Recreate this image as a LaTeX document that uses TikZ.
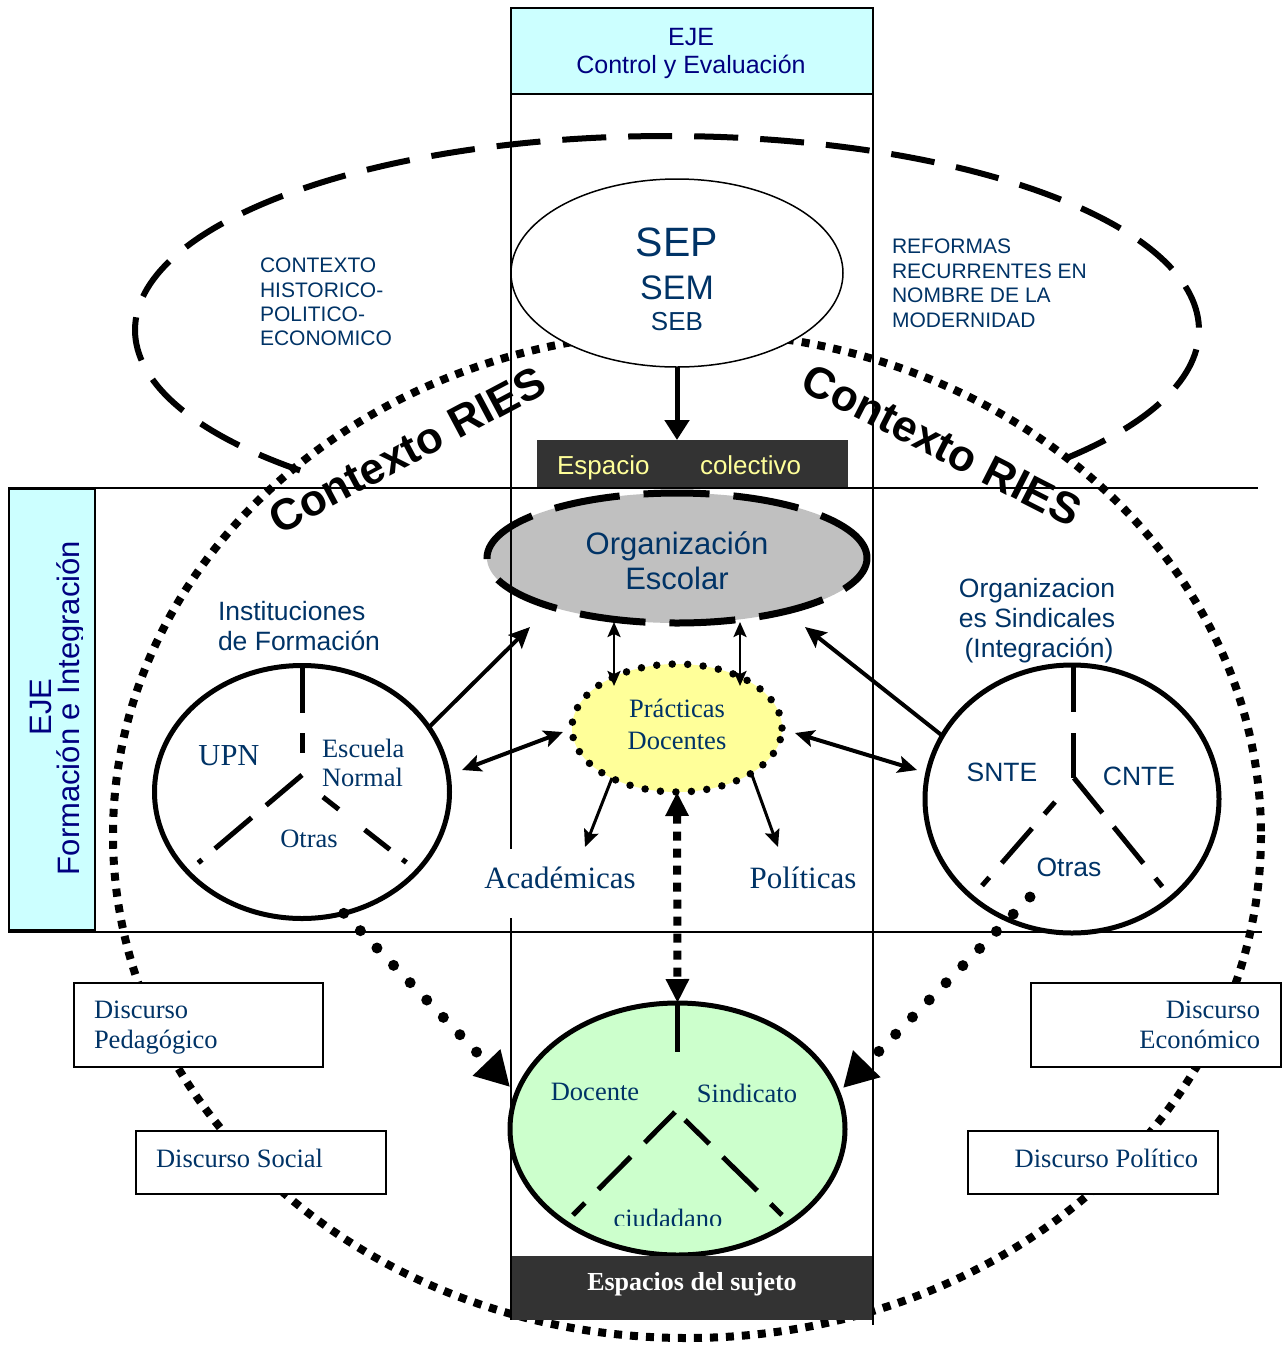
\documentclass[tikz,border=0pt]{standalone}
\usepackage{fontspec}
\setmainfont{Liberation Serif}
\setsansfont{Liberation Sans}
\usetikzlibrary{arrows.meta,shapes.geometric}
\definecolor{txtblue}{HTML}{003366}
\definecolor{ejeblue}{HTML}{000080}
\definecolor{cyanfill}{HTML}{CCFFFF}
\definecolor{grayfill}{HTML}{C0C0C0}
\definecolor{yelfill}{HTML}{FFFF99}
\definecolor{grnfill}{HTML}{CCFFCC}
\definecolor{darkfill}{HTML}{333333}
\newcommand\fs[1]{\fontsize{#1}{#1}\selectfont}
\tikzset{
  lbl/.style={inner sep=0pt, outer sep=0pt, text=txtblue},
  sansL/.style={lbl, font=\sffamily\fs{26.5}},
  serifL/.style={lbl, font=\rmfamily\fs{26.5}},
  ctxL/.style={lbl, font=\sffamily\fs{21}, anchor=base west},
  ejeL/.style={inner sep=0pt, outer sep=0pt, text=ejeblue, font=\sffamily\fs{25}},
  ries/.style={inner sep=0pt, outer sep=0pt, text=black, font=\sffamily\bfseries\fs{44}},
  bigdash/.style={line width=6pt, dash pattern=on 44pt off 22pt},
  bigdots/.style={line width=8pt, dash pattern=on 8pt off 8pt},
  circ/.style={ellipse, draw=black, line width=5pt, fill=white, inner sep=0pt, outer sep=0pt},
  yline/.style={line width=5pt},
  discbox/.style={draw=black, line width=2pt, fill=white, inner sep=0pt, outer sep=0pt, anchor=north west},
  darkbox/.style={fill=darkfill, inner sep=0pt, outer sep=0pt, anchor=north west},
  cyanbox/.style={draw=black, line width=2pt, fill=cyanfill, inner sep=0pt, outer sep=0pt, anchor=north west},
  thinarr/.style={line width=2.5pt, {Stealth[length=15pt,width=13pt,inset=3pt]}-{Stealth[length=15pt,width=13pt,inset=3pt]}},
  medarrtwo/.style={line width=4pt, {Stealth[length=19pt,width=17pt,inset=4pt]}-{Stealth[length=19pt,width=17pt,inset=4pt]}},
  medarr/.style={line width=3pt, -{Stealth[length=17pt,width=15pt,inset=3pt]}},
  bigarr/.style={line width=4pt, -{Stealth[length=21pt,width=19pt,inset=4pt]}},
  separr/.style={line width=5pt, -{Triangle[length=20pt,width=24pt]}},
  sqdotarr/.style={line width=8pt, dash pattern=on 9pt off 8pt, {Triangle[length=24pt,width=22pt]}-{Triangle[length=24pt,width=22pt]}},
  rdotarr/.style={line width=11pt, line cap=round, dash pattern=on 0pt off 24pt, -{Triangle[length=34pt,width=36pt]}},
}
\begin{document}
\begin{tikzpicture}[x=1pt,y=-1pt]
\useasboundingbox (0,0) rectangle (1285,1345);
\fill[white] (0,0) rectangle (1285,1345);

% large dashed ellipse (open at bottom)
\draw[bigdash] ({667+532*cos(133.6)},{330+194*sin(133.6)}) arc[start angle=133.6, end angle=402, x radius=532, y radius=194];
% large dotted ellipse
\draw[bigdots] (687,835) ellipse[x radius=574, y radius=503];

% axis boxes
\node[cyanbox, minimum width=362, minimum height=86] (ejeCE) at (511,8) {};
\node[cyanbox, minimum width=86, minimum height=441] (ejeFI) at (9,489) {};

% shapes
\node[ellipse, draw=black, line width=1.5pt, fill=white, minimum width=332, minimum height=188, inner sep=0pt, outer sep=0pt] (sep) at (677,273) {};
\node[darkbox, minimum width=311, minimum height=48] (esp) at (537,440) {};
\node[ellipse, draw=black, fill=grayfill, line width=7pt, dash pattern=on 66pt off 24pt, minimum width=380, minimum height=130, inner sep=0pt, outer sep=0pt] (org) at (677,558) {};
\node[ellipse, fill=yelfill, draw=black, line width=7.5pt, line cap=round, dash pattern=on 0pt off 15.5pt, minimum width=210, minimum height=128, inner sep=0pt, outer sep=0pt] (prac) at (677,728) {};
\node[circ, minimum width=295, minimum height=253] (upn) at (302,792) {};
\node[circ, minimum width=294, minimum height=268] (sind) at (1072,799) {};
\node[circ, fill=grnfill, minimum width=335, minimum height=252] (grn) at (677.5,1129) {};
\node[darkbox, minimum width=362, minimum height=64] (esu) at (511,1256) {};
\node[discbox, minimum width=249, minimum height=84] (dped) at (74,983) {};
\node[discbox, minimum width=250, minimum height=63] (dsoc) at (136,1131) {};
\node[discbox, minimum width=250, minimum height=84] (deco) at (1031,983) {};
\node[discbox, minimum width=250, minimum height=63] (dpol) at (968,1131) {};

% frame lines
\draw[line width=2pt] (511,8) -- (511,1320);
\draw[line width=2pt] (873,8) -- (873,1325);
\draw[line width=2pt] (8,488) -- (1258,488);
\draw[line width=2pt] (8,932) -- (1262,932);

% Y dividers
\draw[yline, dash pattern=on 45pt off 20pt on 20pt off 30pt] (302,668) -- (302,775);
\draw[yline, dash pattern=on 47pt off 19pt on 48pt off 17pt on 5pt] (302,775) -- (198,863);
\draw[yline, dash pattern=on 20pt off 33pt on 32pt off 16pt on 5pt] (323,797) -- (407,863);
\draw[yline] (1073,667) -- (1073,712);
\draw[yline] (1073,733) -- (1073,778);
\draw[yline, dash pattern=on 45pt off 18pt on 47pt off 19pt on 11pt] (1074,778) -- (1165,890);
\draw[yline, dash pattern=on 16pt off 19pt on 46pt off 19pt on 11pt] (1055,802) -- (980,888);
\draw[yline] (677,1003) -- (677,1052);
\draw[yline, dash pattern=on 43pt off 20pt on 46pt off 19pt on 17pt] (675,1112) -- (573,1215);
\draw[yline, dash pattern=on 34pt off 19pt on 48pt off 19pt on 17pt] (685,1120) -- (782,1215);

% white backing of the label below the practices
\fill[white] (480,849) rectangle (640,918);

% connectors
\coordinate (orgL) at (614,622); \coordinate (pracL) at (614,686);
\coordinate (orgR) at (740,622); \coordinate (pracR) at (740,686);
\draw[thinarr] (orgL) -- (pracL);
\draw[thinarr] (orgR) -- (pracR);
\coordinate (upnA) at (462,770); \coordinate (pracA) at (563,732);
\draw[medarrtwo] (upnA) -- (pracA);
\coordinate (pracB) at (795,733); \coordinate (sindB) at (917,770);
\draw[medarrtwo] (pracB) -- (sindB);
\coordinate (pracC) at (612,778); \coordinate (acadC) at (585,847);
\draw[medarr] (pracC) -- (acadC);
\coordinate (pracD) at (752,775); \coordinate (polD) at (778,847);
\draw[medarr] (pracD) -- (polD);
\coordinate (orgE) at (530,627);
\draw[bigarr] (upn.27) -- (orgE);
\coordinate (orgF) at (805,627);
\draw[bigarr] (sind.154) -- (orgF);
\draw[separr] (sep.south) -- (sep.south |- esp.north);
\draw[sqdotarr] (prac.south) -- (grn.north);
\coordinate (grnL) at (510,1087);
\draw[rdotarr] (upn.-71) -- (grnL);
\coordinate (sindG) at (1030,897);
\coordinate (grnR) at (843,1088);
\draw[rdotarr] (sindG) -- (grnR);

% texts: top axis
\node[ejeL, anchor=base] (tEje) at (691,45) {EJE};
\node[ejeL, anchor=base] (tCE) at (691,73) {Control y Evaluación};
% left axis
\node[ejeL, font=\sffamily\fs{31}, rotate=90, anchor=base] (tEjeL) at (51,707) {EJE};
\begin{scope}
\clip (9,489) rectangle (82,930);
\node[ejeL, font=\sffamily\fs{31}, rotate=90, anchor=base] (tFI) at (79,708) {Formación e Integración};
\end{scope}
% context texts
\node[ctxL] (c1) at (260,272) {CONTEXTO};
\node[ctxL] (c2) at (260,297) {HISTORICO-};
\node[ctxL] (c3) at (260,321) {POLITICO-};
\node[ctxL] (c4) at (260,345) {ECONOMICO};
\node[ctxL] (r1) at (892,253) {REFORMAS};
\node[ctxL] (r2) at (892,278) {RECURRENTES EN};
\node[ctxL] (r3) at (892,302) {NOMBRE DE LA};
\node[ctxL] (r4) at (892,327) {MODERNIDAD};
% SEP
\node[lbl, font=\sffamily\fs{41}, anchor=base] (tSEP) at (677,256) {SEP};
\node[lbl, font=\sffamily\fs{34}, anchor=base] (tSEM) at (677,299) {SEM};
\node[lbl, font=\sffamily\fs{26}, anchor=base] (tSEB) at (677,330) {SEB};
% espacio colectivo
\node[lbl, text=yelfill, font=\sffamily\fs{26}, anchor=base west] (tEsp) at (557,474) {Espacio};
\node[lbl, text=yelfill, font=\sffamily\fs{26}, anchor=base west] (tCol) at (700,474) {colectivo};
% organizacion escolar
\node[lbl, font=\sffamily\fs{31}, anchor=base] (tOrg1) at (677,554) {Organización};
\node[lbl, font=\sffamily\fs{31}, anchor=base] (tOrg2) at (677,589) {Escolar};
% instituciones
\node[sansL, anchor=base west] (tIns1) at (218,620) {Instituciones};
\node[sansL, anchor=base west] (tIns2) at (218,650) {de Formación};
% organizaciones sindicales
\node[sansL, anchor=base] (tSin1) at (1037,597) {Organizacion};
\node[sansL, anchor=base] (tSin2) at (1037,627) {es Sindicales};
\node[sansL, anchor=base] (tSin3) at (1039,657) {(Integración)};
% UPN circle
\node[lbl, font=\rmfamily\fs{30.5}, anchor=base] (tUPN) at (229,765) {UPN};
\node[serifL, anchor=base west] (tEsc) at (322,757) {Escuela};
\node[serifL, anchor=base west] (tNor) at (322,786) {Normal};
\node[serifL, anchor=base] (tOtr1) at (309,847) {Otras};
% sindical circle
\node[sansL, anchor=base] (tSNTE) at (1002,781) {SNTE};
\node[sansL, anchor=base] (tCNTE) at (1139,785) {CNTE};
\node[sansL, anchor=base] (tOtr2) at (1069,876) {Otras};
% practicas
\node[serifL, anchor=base] (tPra1) at (677,717) {Prácticas};
\node[serifL, anchor=base] (tPra2) at (677,749) {Docentes};
\node[lbl, font=\rmfamily\fs{31}, anchor=base] (tAca) at (560,888) {Académicas};
\node[lbl, font=\rmfamily\fs{31}, anchor=base] (tPol) at (803,888) {Políticas};
% discursos
\node[serifL, anchor=base west] (tDP1) at (94,1018) {Discurso};
\node[serifL, anchor=base west] (tDP2) at (94,1048) {Pedagógico};
\node[serifL, anchor=base west] (tDS) at (156,1167) {Discurso Social};
\node[serifL, anchor=base east] (tDE1) at (1260,1018) {Discurso};
\node[serifL, anchor=base east] (tDE2) at (1260,1048) {Económico};
\node[serifL, anchor=base east] (tDPo) at (1198,1167) {Discurso Político};
% green ellipse
\node[serifL, anchor=base] (tDoc) at (595,1100) {Docente};
\node[serifL, anchor=base] (tSind) at (747,1102) {Sindicato};
\begin{scope}
\clip (590,1190) rectangle (750,1225);
\node[serifL, anchor=base] (tCiu) at (668,1227) {ciudadano};
\end{scope}
\node[inner sep=0pt, outer sep=0pt, text=white, font=\rmfamily\bfseries\fs{26}, anchor=base] (tEsu) at (692,1290) {Espacios del sujeto};
% Contexto RIES
\node[ries, rotate=28] (riesL) at (407,450) {Contexto RIES};
\node[ries, rotate=-27] (riesR) at (942,445) {Contexto RIES};
\end{tikzpicture}
\end{document}
